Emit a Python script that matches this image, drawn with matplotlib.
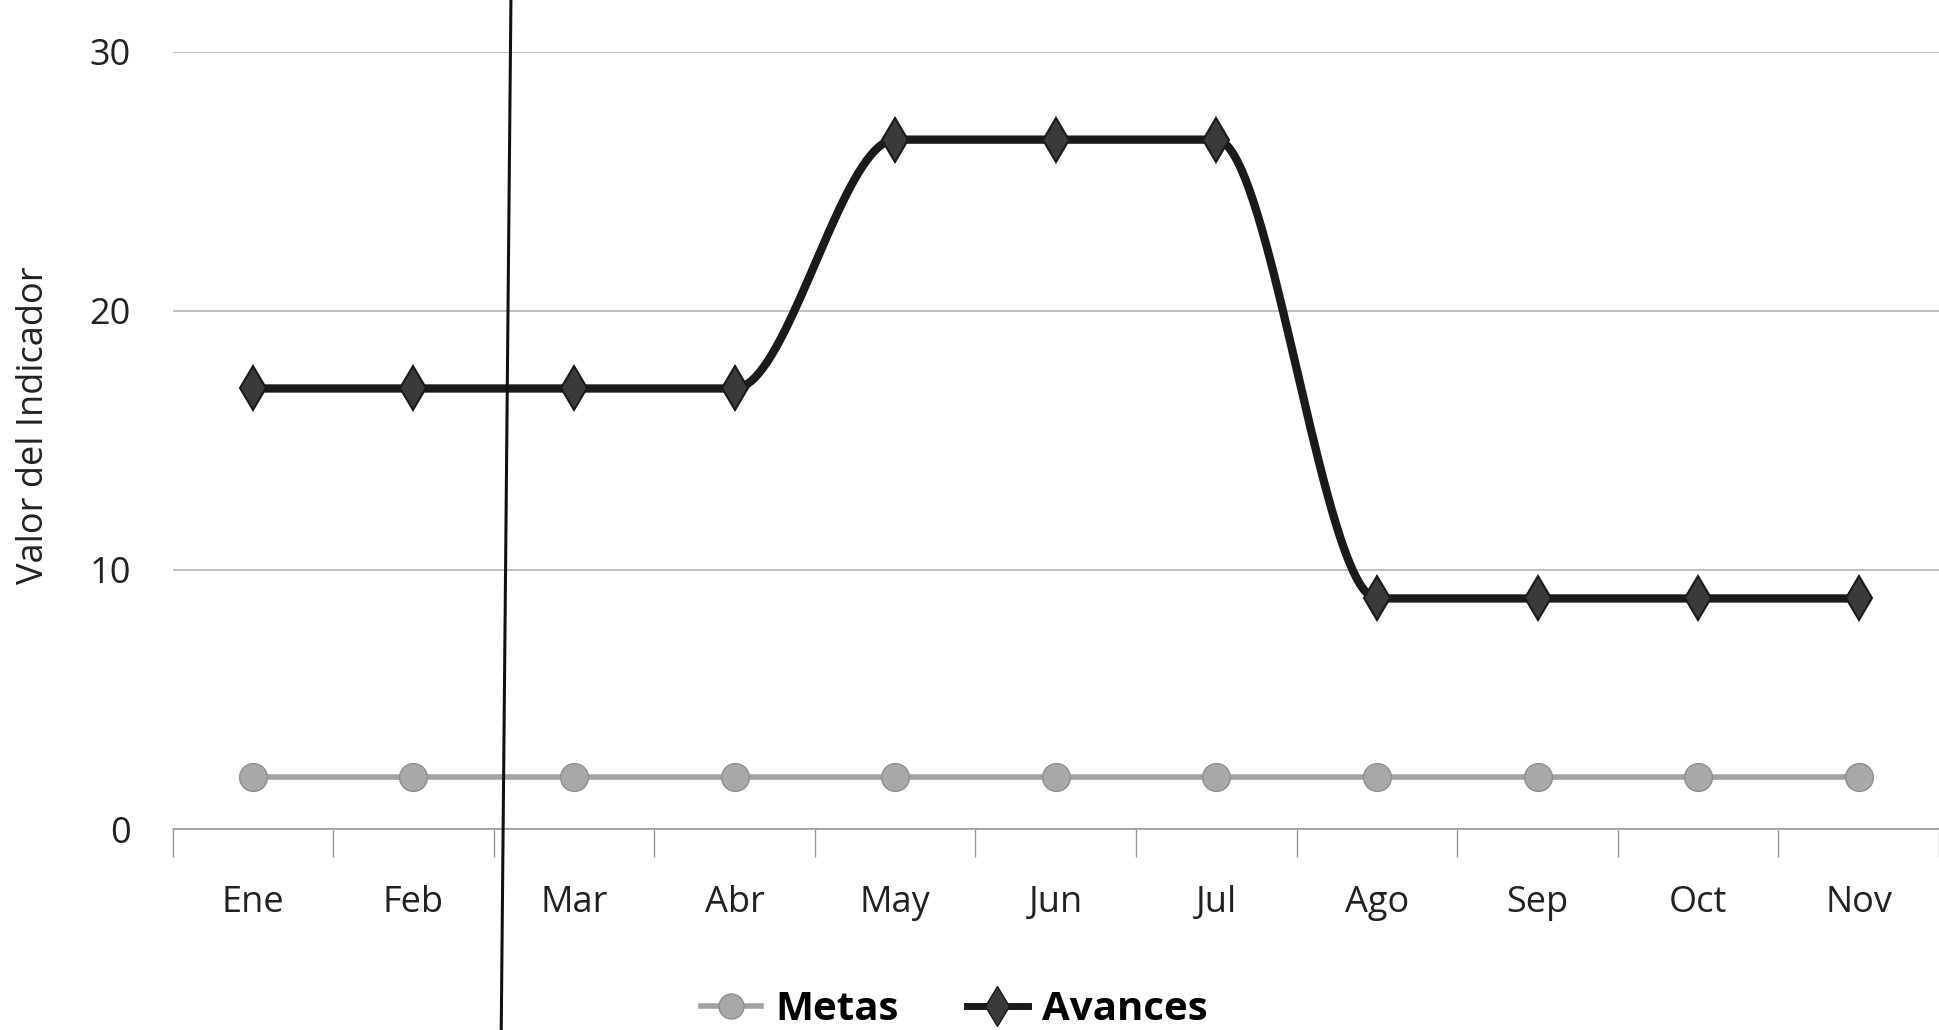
import matplotlib.pyplot as plt
import numpy as np
from matplotlib.lines import Line2D

plt.rcParams['font.family'] = ['Open Sans', 'DejaVu Sans']

meses = ['Ene', 'Feb', 'Mar', 'Abr', 'May', 'Jun', 'Jul', 'Ago', 'Sep', 'Oct', 'Nov']
metas = [2.0, 2.0, 2.0, 2.0, 2.0, 2.0, 2.0, 2.0, 2.0, 2.0, 2.0]
avances = [17.0, 17.0, 17.0, 17.0, 26.6, 26.6, 26.6, 8.9, 8.9, 8.9, 8.9]


def suavizar(x, y, n=40):
    # linea suavizada sin sobrepasar los valores (Hermite monotona)
    x = np.asarray(x, float)
    y = np.asarray(y, float)
    h = np.diff(x)
    d = np.diff(y) / h
    m = np.zeros_like(y)
    m[0], m[-1] = d[0], d[-1]
    for i in range(1, len(y) - 1):
        if d[i - 1] * d[i] > 0:
            m[i] = 2 / (1 / d[i - 1] + 1 / d[i])
    if d[0] == 0 or (len(d) > 1 and d[0] * d[1] <= 0):
        m[0] = 0
    if d[-1] == 0 or (len(d) > 1 and d[-1] * d[-2] <= 0):
        m[-1] = 0
    xs, ys = [], []
    t = np.linspace(0, 1, n)
    for i in range(len(x) - 1):
        h00 = 2 * t ** 3 - 3 * t ** 2 + 1
        h10 = t ** 3 - 2 * t ** 2 + t
        h01 = -2 * t ** 3 + 3 * t ** 2
        h11 = t ** 3 - t ** 2
        xs.extend(x[i] + t * h[i])
        ys.extend(h00 * y[i] + h10 * h[i] * m[i] + h01 * y[i + 1] + h11 * h[i] * m[i + 1])
    return np.array(xs), np.array(ys)


fig = plt.figure(figsize=(19.39, 10.30), dpi=100)
ax = fig.add_axes([0.089, 0.195, 0.911, 0.755])

x = np.arange(len(meses))

ax.plot(x, metas, color='#a2a2a2', linewidth=4, marker='o', markersize=20,
        markerfacecolor='#a8a8a8', markeredgecolor='#8e8e8e', zorder=3)
sx, sy = suavizar(x, avances)
ax.plot(sx, sy, color='#1a1a1a', linewidth=6, zorder=4)
ax.plot(x, avances, linestyle='none', marker='d', markersize=22,
        markerfacecolor='#3a3a3a', markeredgecolor='#1a1a1a', markeredgewidth=1.5, zorder=5)

ax.set_xlim(-0.5, len(meses) - 0.5)
ax.set_ylim(0, 30)
ax.set_yticks([0, 10, 20, 30])
ax.set_xticks(x)
ax.set_xticklabels(meses)
ax.set_xticks(np.arange(-0.5, len(meses), 1), minor=True)
ax.tick_params(axis='x', which='major', length=0, pad=40, labelsize=26, colors='#222222')
ax.tick_params(axis='x', which='minor', length=20, width=1, color='#999999')
ax.tick_params(axis='y', length=0, pad=30, labelsize=26, colors='#222222')

ax.grid(axis='y', color='#b5b5b5', linewidth=1.2)
ax.set_axisbelow(True)
for s in ['top', 'right', 'left']:
    ax.spines[s].set_visible(False)
ax.spines['bottom'].set_color('#999999')
ax.spines['bottom'].set_linewidth(1.2)

ax.set_ylabel('Valor del Indicador', fontsize=26, color='#222222', labelpad=32)
ax.yaxis.set_label_coords(-0.068, 0.52)

handles = [
    Line2D([], [], color='#a2a2a2', linewidth=4, marker='o', markersize=18,
           markerfacecolor='#a8a8a8', markeredgecolor='#8e8e8e'),
    Line2D([], [], color='#1a1a1a', linewidth=5, marker='d', markersize=20,
           markerfacecolor='#3a3a3a', markeredgecolor='#1a1a1a'),
]
fig.legend(handles, ['Metas', 'Avances'], loc='center', bbox_to_anchor=(0.492, 0.02),
           ncol=2, frameon=False, handlelength=1.5, handletextpad=0.35, columnspacing=1.7,
           prop={'size': 29, 'weight': 'bold'})

# linea vertical del escaneo
fig.add_artist(Line2D([0.2635, 0.2585], [1.0, 0.0], color='#111111', linewidth=2.2,
                      transform=fig.transFigure))

fig.savefig('out.png', dpi=100)
